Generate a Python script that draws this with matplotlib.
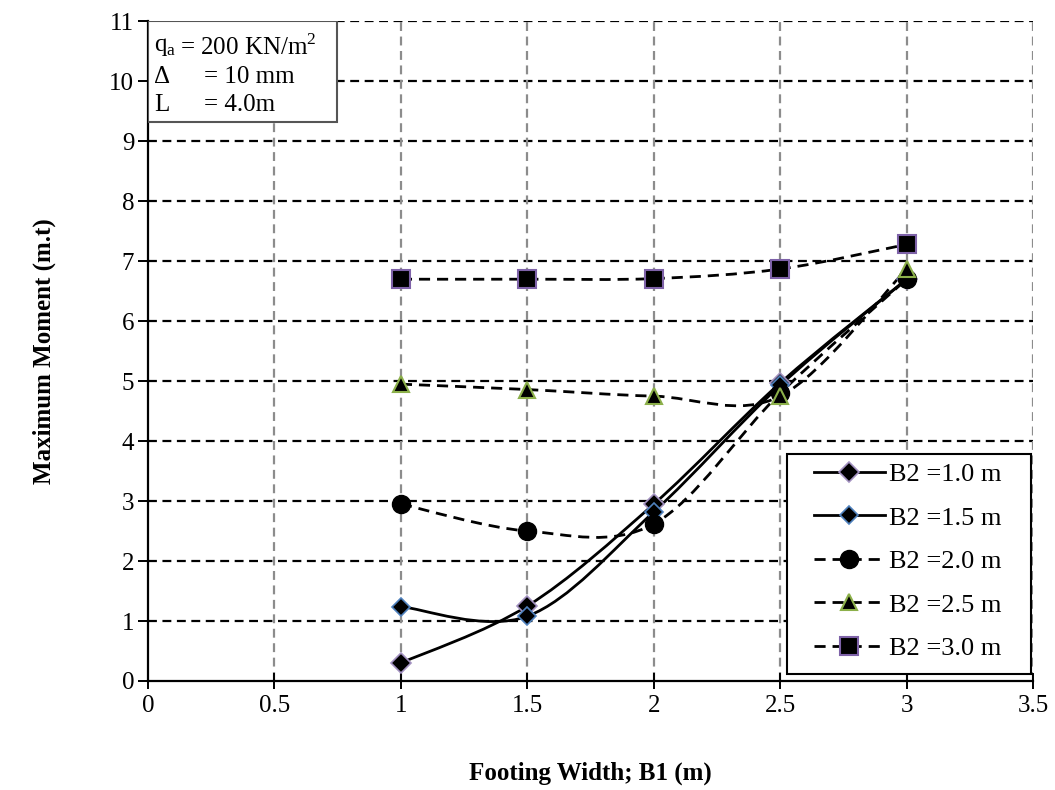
import numpy as np
import matplotlib
matplotlib.use("Agg")
import matplotlib.pyplot as plt
from matplotlib.path import Path
from matplotlib.patches import PathPatch, Rectangle
from matplotlib.lines import Line2D

plt.rcParams['font.family'] = ['Liberation Serif', 'DejaVu Serif']
plt.rcParams['mathtext.fontset'] = 'custom'
plt.rcParams['mathtext.rm'] = 'Liberation Serif'

# data
b1 = [1.0, 1.5, 2.0, 2.5, 3.0]
m_b2_10 = [0.30, 1.25, 2.95, 4.97, 6.70]
m_b2_15 = [1.24, 1.08, 2.82, 4.93, 6.70]
m_b2_20 = [2.95, 2.50, 2.62, 4.80, 6.70]
m_b2_25 = [4.95, 4.86, 4.75, 4.75, 6.87]
m_b2_30 = [6.70, 6.70, 6.71, 6.87, 7.28]
labels = ["B2 =1.0 m", "B2 =1.5 m", "B2 =2.0 m", "B2 =2.5 m", "B2 =3.0 m"]
x_ticks = [0, 0.5, 1, 1.5, 2, 2.5, 3, 3.5]
y_ticks = list(range(0, 12))

series = [m_b2_10, m_b2_15, m_b2_20, m_b2_25, m_b2_30]
DASH = (0, (4, 2.5))
styles = [
    dict(ls='-', marker='D', ms=10, mec='#A291C0', mew=1.2),
    dict(ls='-', marker='D', ms=9, mec='#4F81BD', mew=1.2),
    dict(ls=DASH, marker='o', ms=13, mec='black', mew=1.0),
    dict(ls=DASH, marker='^', ms=11, mec='#8CB04A', mew=1.5),
    dict(ls=DASH, marker='s', ms=12.5, mec='#7E62A8', mew=1.5),
]


def smooth_path(x, y):
    # Excel-like smoothed line: cubic Bezier segments through the points
    p = np.column_stack([x, y]).astype(float)
    ext = np.vstack([p[0], p, p[-1]])
    verts = [p[0]]
    codes = [Path.MOVETO]
    for i in range(len(p) - 1):
        c1 = p[i] + (ext[i + 2] - ext[i]) / 6.0
        c2 = p[i + 1] - (ext[i + 3] - ext[i + 1]) / 6.0
        verts += [c1, c2, p[i + 1]]
        codes += [Path.CURVE4] * 3
    return Path(verts, codes)


fig = plt.figure(figsize=(10.55, 7.9), dpi=100)
ax = fig.add_axes([0.1403, 0.138, 0.839, 0.835])

ax.set_xlim(0, 3.5)
ax.set_ylim(0, 11)
ax.set_xticks(x_ticks)
ax.set_xticklabels([f"{t:g}" for t in x_ticks])
ax.set_yticks(y_ticks)

# gridlines
for yv in y_ticks[1:]:
    ax.axhline(yv, color='black', lw=1.6, ls=DASH, zorder=0)
for xv in x_ticks[1:]:
    ax.axvline(xv, color='#8C8C8C', lw=1.6, ls=DASH, zorder=0)

handles = []
for vals, st, lab in zip(series, styles, labels):
    patch = PathPatch(smooth_path(b1, vals), facecolor='none', edgecolor='black',
                      lw=2.0, linestyle=st['ls'], transform=ax.transData, zorder=2)
    ax.add_patch(patch)
    ax.plot(b1, vals, linestyle='none', marker=st['marker'], ms=st['ms'],
            mfc='black', mec=st['mec'], mew=st['mew'], zorder=3)
    handles.append(Line2D([], [], color='black', lw=2.0, linestyle=st['ls'],
                          marker=st['marker'], ms=st['ms'], mfc='black',
                          mec=st['mec'], mew=st['mew']))

# legend frame drawn separately so the padding can match the reference
ax.add_patch(Rectangle((0.722, 0.0106), 0.275, 0.333, transform=ax.transAxes,
                       facecolor='white', edgecolor='black', lw=1.5, zorder=5))
leg = ax.legend(handles, labels, loc='upper left', bbox_to_anchor=(0.752, 0.331),
                borderaxespad=0, borderpad=0, fontsize=19, frameon=False,
                handlelength=2.7, labelspacing=0.76, handletextpad=0.15)
leg.set_zorder(6)

# parameter box
ax.add_patch(Rectangle((0, 0.848), 0.2136, 0.152, transform=ax.transAxes,
                       facecolor='white', edgecolor='#555555', lw=1.5, zorder=5))
box_lines = [("q$_\\mathrm{a}$", "= 200 KN/m$^\\mathrm{2}$", 10.57),
             ("\u0394", "= 10 mm", 10.08),
             ("L", "= 4.0m", 9.60)]
for sym, val, yv in box_lines:
    yf = yv / 11.0
    ax.text(0.007, yf, sym, transform=ax.transAxes, ha='left', va='center',
            fontsize=18, zorder=6)
    x_eq = 0.036 if sym.startswith("q") else 0.063
    ax.text(x_eq, yf, val, transform=ax.transAxes, ha='left', va='center',
            fontsize=18, zorder=6)

for side in ['top', 'right']:
    ax.spines[side].set_visible(False)
for side in ['left', 'bottom']:
    ax.spines[side].set_linewidth(1.6)
    ax.spines[side].set_zorder(4)
ax.tick_params(axis='both', labelsize=18, width=1.4, length=7, direction='out')
ax.tick_params(axis='x', direction='inout', length=12, pad=4)
ax.tick_params(axis='y', pad=3)

ax.set_xlabel("Footing Width; B1 (m)", fontsize=18, fontweight='bold', labelpad=32)
ax.set_ylabel("Maximum Moment (m.t)", fontsize=18, fontweight='bold', labelpad=38)

fig.savefig("out.png", dpi=100, facecolor='white')
